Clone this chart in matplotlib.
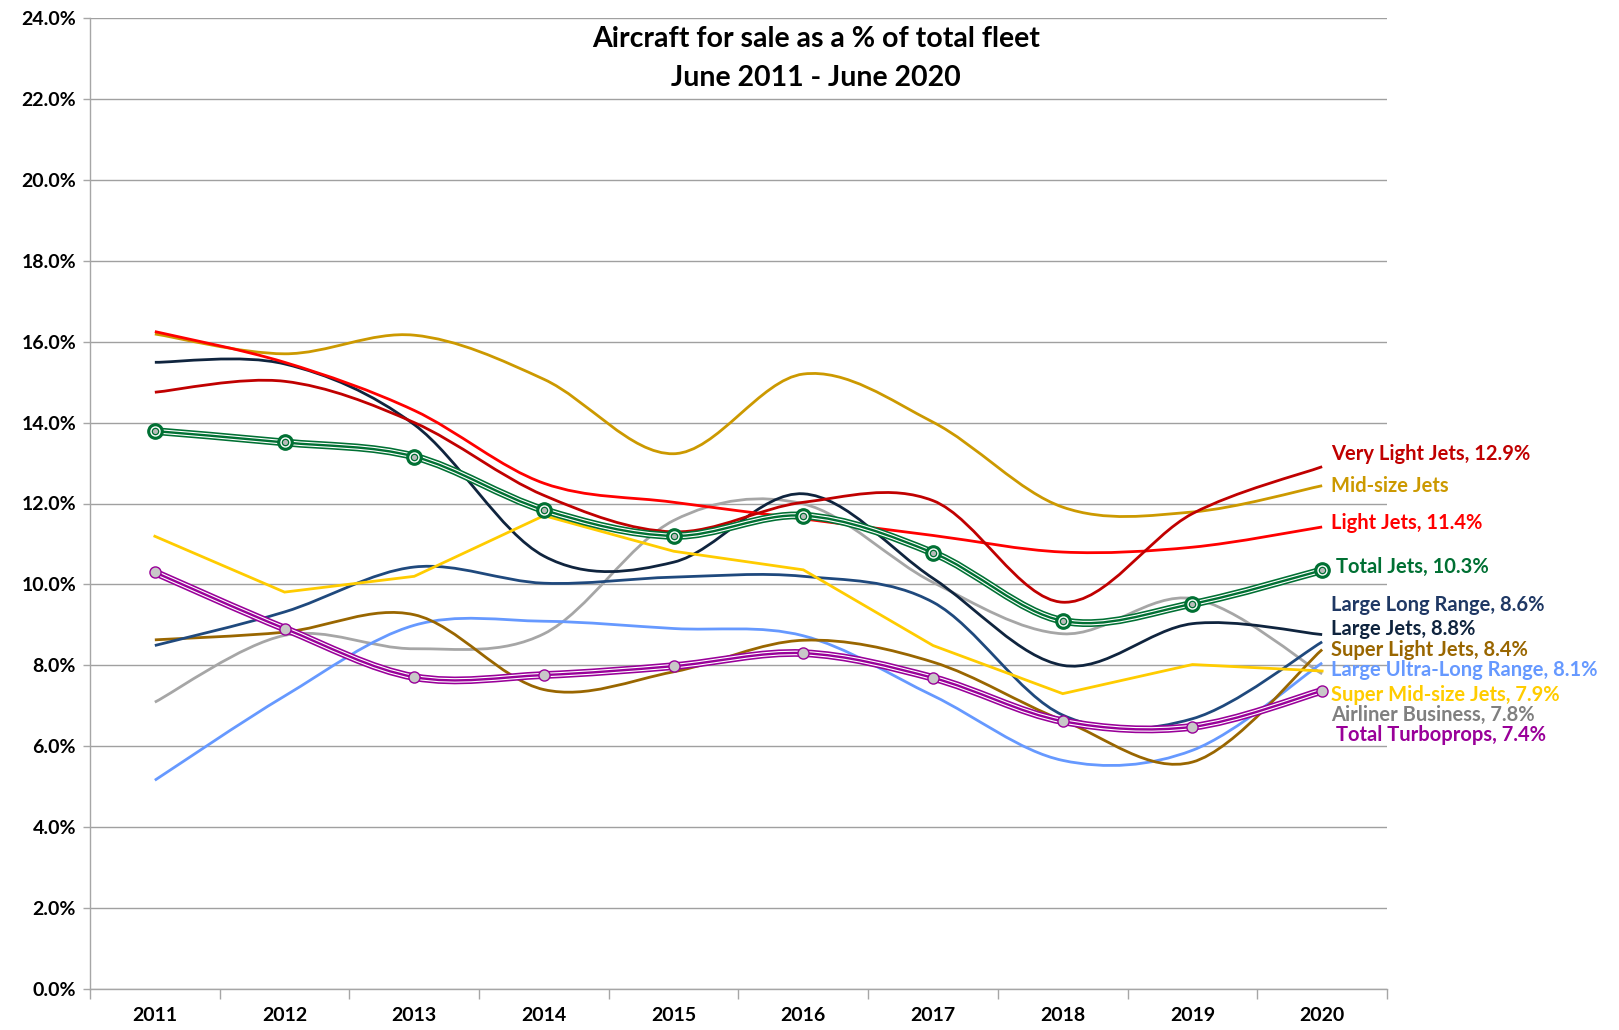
import matplotlib

matplotlib.use("Agg")

import matplotlib.pyplot as plt
import numpy as np
from matplotlib.path import Path
from matplotlib.patches import PathPatch
from matplotlib.ticker import FuncFormatter, FixedLocator

plt.rcParams["font.family"] = ["Lato", "DejaVu Sans"]
plt.rcParams["font.weight"] = "bold"

years = [2011, 2012, 2013, 2014, 2015, 2016, 2017, 2018, 2019, 2020]

very_light_jets = [14.75, 15.02, 14.0, 12.2, 11.3, 12.03, 12.07, 9.56, 11.75, 12.91]
mid_size_jets = [16.19, 15.70, 16.16, 15.07, 13.23, 15.20, 14.01, 11.91, 11.79, 12.44]
light_jets = [16.25, 15.49, 14.30, 12.5, 12.03, 11.62, 11.21, 10.8, 10.92, 11.42]
total_jets = [13.79, 13.51, 13.16, 11.84, 11.2, 11.7, 10.78, 9.1, 9.52, 10.35]
large_long_range = [8.49, 9.32, 10.43, 10.03, 10.18, 10.2, 9.56, 6.77, 6.68, 8.58]
large_jets = [15.49, 15.45, 13.95, 10.7, 10.55, 12.24, 10.15, 8.0, 9.03, 8.76]
super_light_jets = [8.63, 8.82, 9.25, 7.4, 7.84, 8.62, 8.08, 6.64, 5.61, 8.39]
large_ultra_long = [5.16, 7.24, 8.99, 9.09, 8.91, 8.73, 7.25, 5.65, 5.9, 8.06]
super_mid_size = [11.19, 9.81, 10.2, 11.7, 10.82, 10.36, 8.49, 7.3, 8.02, 7.86]
airliner_business = [7.09, 8.74, 8.41, 8.78, 11.58, 11.99, 10.05, 8.78, 9.65, 7.79]
total_turboprops = [10.3, 8.91, 7.71, 7.76, 7.98, 8.3, 7.69, 6.62, 6.48, 7.37]

# (values, line colour, label, label colour, label y, smoothed)
thin_series = [
    (airliner_business, "#A6A6A6", "Airliner Business, 7.8%", "#808080", 6.77, True),
    (large_ultra_long, "#6699FF", "Large Ultra-Long Range, 8.1%", "#6699FF", 7.88, True),
    (super_light_jets, "#996600", "Super Light Jets, 8.4%", "#996600", 8.37, True),
    (large_long_range, "#1F497D", "Large Long Range, 8.6%", "#1F3864", 9.48, True),
    (large_jets, "#0F243E", "Large Jets, 8.8%", "#0F243E", 8.91, True),
    (super_mid_size, "#FFCC00", "Super Mid-size Jets, 7.9%", "#FFCC00", 7.26, False),
    (mid_size_jets, "#CC9900", "Mid-size Jets", "#CC9900", 12.43, True),
    (light_jets, "#FF0000", "Light Jets, 11.4%", "#FF0000", 11.52, True),
    (very_light_jets, "#C00000", "Very Light Jets, 12.9%", "#C00000", 13.23, True),
]


def smooth_path(xs, ys):
    """Excel-style smoothed line as cubic Bezier segments."""
    pts = np.column_stack([xs, ys]).astype(float)
    n = len(pts)
    verts, codes = [pts[0]], [Path.MOVETO]
    for i in range(n - 1):
        p0 = pts[i - 1] if i > 0 else pts[i]
        p1, p2 = pts[i], pts[i + 1]
        p3 = pts[i + 2] if i + 2 < n else pts[i + 1]
        verts += [p1 + (p2 - p0) / 6, p2 - (p3 - p1) / 6, p2]
        codes += [Path.CURVE4] * 3
    return Path(verts, codes)


def draw_line(ax, values, color, lw, smooth=True, z=2):
    if smooth:
        ax.add_patch(PathPatch(smooth_path(years, values), fill=False, edgecolor=color,
                               lw=lw, joinstyle="round", capstyle="butt", zorder=z))
    else:
        ax.plot(years, values, color=color, lw=lw, zorder=z, solid_joinstyle="miter")


fig = plt.figure(figsize=(16.19, 10.30), dpi=100)
ax = fig.add_axes([90 / 1619, 41 / 1030, 1297 / 1619, 971 / 1030])

for values, color, label, lcolor, ly, smooth in thin_series:
    draw_line(ax, values, color, 2.0, smooth)
    ax.text(2020.07, ly, label, color=lcolor, fontsize=14.5, fontweight="bold",
            ha="left", va="center", clip_on=False)

# compound lines for the two totals
for values, color, mfc, label, ly in [
    (total_turboprops, "#990099", "#C8C8C8", "Total Turboprops, 7.4%", 6.27),
    (total_jets, "#007033", None, "Total Jets, 10.3%", 10.43),
]:
    draw_line(ax, values, color, 5.6, z=4)
    draw_line(ax, values, "white", 3.3, z=5)
    draw_line(ax, values, color, 1.7, z=6)
    if mfc is None:
        ax.plot(years, values, "o", ms=11, mfc=color, mec=color, zorder=7)
        ax.plot(years, values, "o", ms=6.5, mfc="none", mec="white", mew=1.0, zorder=8)
        ax.plot(years, values, "o", ms=2.6, mfc="#BBBBBB", mec="#BBBBBB", zorder=9)
    else:
        ax.plot(years, values, "o", ms=8, mfc=mfc, mec=color, mew=1.0, zorder=7)
    ax.text(2020.11, ly, label, color=color, fontsize=14.5, fontweight="bold",
            ha="left", va="center", clip_on=False)

ax.set_xlim(2010.5, 2020.5)
ax.set_ylim(0, 24)
ax.set_yticks(np.arange(0, 24.1, 2))
ax.yaxis.set_major_formatter(FuncFormatter(lambda v, _: f"{v:.1f}%"))
ax.set_xticks(years)
ax.set_xticklabels([str(y) for y in years])
ax.xaxis.set_minor_locator(FixedLocator(np.arange(2010.5, 2020.6, 1)))
ax.tick_params(axis="x", which="major", length=0, pad=13, labelsize=14)
ax.tick_params(axis="x", which="minor", length=7, color="#A6A6A6", width=1)
ax.tick_params(axis="y", length=5, color="#A6A6A6", width=1, labelsize=14, pad=5)
for lab in ax.get_xticklabels() + ax.get_yticklabels():
    lab.set_fontweight("bold")

ax.grid(axis="y", color="#A0A0A0", lw=1.0, zorder=0)
ax.set_axisbelow(True)
for side in ("top", "right"):
    ax.spines[side].set_visible(False)
for side in ("left", "bottom"):
    ax.spines[side].set_color("#A6A6A6")
    ax.spines[side].set_linewidth(1.0)

fig.text(816 / 1619, 1 - 39 / 1030, "Aircraft for sale as a % of total fleet",
         ha="center", va="center", fontsize=20.5, fontweight="bold")
fig.text(816 / 1619, 1 - 78 / 1030, "June 2011 - June 2020",
         ha="center", va="center", fontsize=20.5, fontweight="bold")

fig.savefig("out.png", dpi=100)
